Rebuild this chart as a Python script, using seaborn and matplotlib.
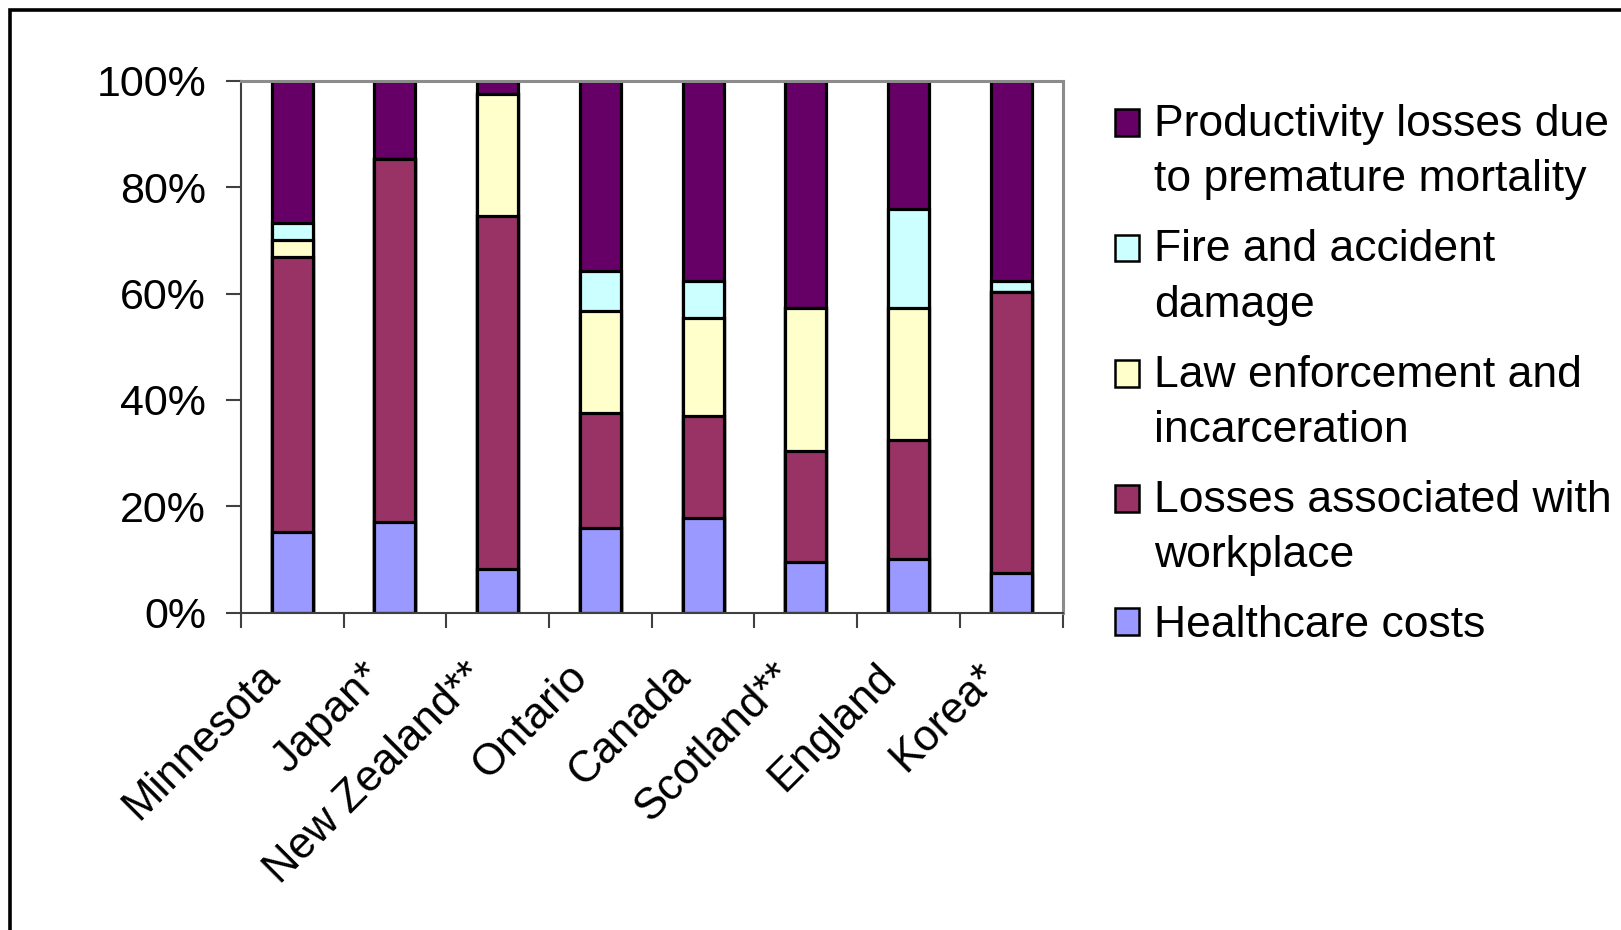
import numpy as np
import pandas as pd
import matplotlib
matplotlib.use("Agg")
import matplotlib.pyplot as plt
import matplotlib.transforms as mtransforms
import seaborn as sns
from matplotlib.patches import Rectangle, Patch
from matplotlib.ticker import PercentFormatter, FixedLocator
from matplotlib.legend_handler import HandlerPatch

# dati (quote percentuali, dal basso verso l'alto)
paesi = ["Minnesota", "Japan*", "New Zealand**", "Ontario", "Canada",
         "Scotland**", "England", "Korea*"]
sanita = [15.2, 17.1, 8.2, 15.9, 17.8, 9.5, 10.1, 7.5]
lavoro = [51.6, 68.2, 66.4, 21.7, 19.1, 20.9, 22.3, 52.8]
legge = [3.2, 0.0, 22.8, 19.2, 18.5, 26.8, 24.8, 0.0]
incendi = [3.2, 0.0, 0.0, 7.5, 7.0, 0.0, 18.6, 2.1]
produttivita = [26.8, 14.7, 2.6, 35.7, 37.6, 42.8, 24.2, 37.6]

etichette = ["Productivity losses due\nto premature mortality",
             "Fire and accident\ndamage",
             "Law enforcement and\nincarceration",
             "Losses associated with\nworkplace",
             "Healthcare costs"]
colori = ["#660066", "#CCFFFF", "#FFFFCC", "#993366", "#9999FF"]

sns.set_style("white")
plt.rcParams["font.family"] = ["Liberation Sans", "DejaVu Sans"]
plt.rcParams["text.color"] = "black"
plt.rcParams["xtick.color"] = "black"
plt.rcParams["ytick.color"] = "black"

df = pd.DataFrame({"paese": paesi, "sanita": sanita, "lavoro": lavoro,
                   "legge": legge, "incendi": incendi, "prod": produttivita})
# cumulate: si disegnano dalla piu' alta alla piu' bassa
df["c_san"] = df["sanita"]
df["c_lav"] = df["c_san"] + df["lavoro"]
df["c_leg"] = df["c_lav"] + df["legge"]
df["c_inc"] = df["c_leg"] + df["incendi"]
df["c_prod"] = df["c_inc"] + df["prod"]
strati = ["c_prod", "c_inc", "c_leg", "c_lav", "c_san"]

fig = plt.figure(figsize=(16.21, 9.3), dpi=100)
ax = fig.add_axes([0.1486, 0.341, 0.5069, 0.5723])

for col, c in zip(strati, colori):
    sns.barplot(data=df, x="paese", y=col, color=c, width=0.4, ax=ax,
                edgecolor="black", linewidth=2.3, saturation=1)

ax.set_xlim(-0.5, len(paesi) - 0.5)
ax.set_ylim(0, 100)
ax.set_xlabel("")
ax.set_ylabel("")
ax.yaxis.set_major_locator(FixedLocator([0, 20, 40, 60, 80, 100]))
ax.yaxis.set_major_formatter(PercentFormatter(decimals=0))
ax.tick_params(axis="y", which="major", left=True, length=11, width=1.5,
               color="#404040", labelsize=31, pad=14)
# ticks x sui confini delle categorie
ax.xaxis.set_minor_locator(FixedLocator(np.arange(-0.5, len(paesi), 1.0)))
ax.tick_params(axis="x", which="minor", bottom=True, length=11, width=1.5,
               color="#404040")
ax.tick_params(axis="x", which="major", bottom=False, length=0,
               labelsize=31.5, pad=31)
sposta = mtransforms.ScaledTranslation(-24 / 72, 0, fig.dpi_scale_trans)
for t in ax.get_xticklabels():
    t.set_rotation(45)
    t.set_ha("right")
    t.set_va("top")
    t.set_rotation_mode("anchor")
    t.set_transform(t.get_transform() + sposta)

for s in ["left", "bottom"]:
    ax.spines[s].set_color("#404040")
    ax.spines[s].set_linewidth(1.5)
for s in ["top", "right"]:
    ax.spines[s].set_color("#8c8c8c")
    ax.spines[s].set_linewidth(2.2)


class QuadratoAlto(HandlerPatch):
    def __init__(self, alza):
        super().__init__()
        self.alza = alza

    def create_artists(self, legend, orig_handle, xdescent, ydescent,
                       width, height, fontsize, trans):
        p = Rectangle((-xdescent, -ydescent + self.alza * fontsize),
                      width, height)
        self.update_prop(p, orig_handle, legend)
        p.set_transform(trans)
        return [p]


maniglie = [Patch(facecolor=c, edgecolor="black", linewidth=1.8) for c in colori]
mappa = {h: QuadratoAlto(0.67 if "\n" in l else 0.0)
         for h, l in zip(maniglie, etichette)}
leg = fig.legend(maniglie, etichette, loc="upper left",
                 bbox_to_anchor=(1115 / 1621, 1 - 104 / 930),
                 frameon=False, fontsize=32, handlelength=0.55,
                 handleheight=0.55, handletextpad=0.32, labelspacing=0.65,
                 borderpad=0, borderaxespad=0, handler_map=mappa)
for t in leg.get_texts():
    t.set_linespacing(1.45)

# cornice esterna (solo lati sinistro e superiore visibili)
fig.patches.append(Rectangle((10 / 1621, -0.5), 2.0, 1.5 - 10 / 930,
                             transform=fig.transFigure, fill=False,
                             edgecolor="black", linewidth=2.6))

fig.savefig("out.png", dpi=100)
